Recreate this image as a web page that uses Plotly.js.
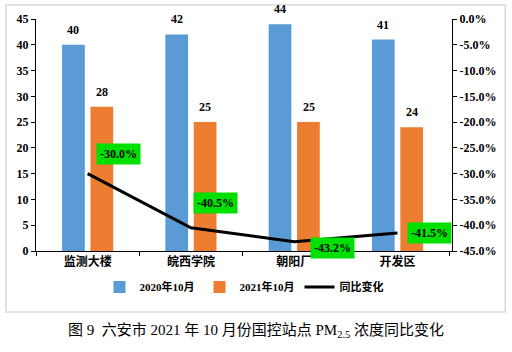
<!DOCTYPE html>
<html><head><meta charset="utf-8">
<script src="https://cdn.plot.ly/plotly-3.0.1.min.js"></script>
<style>html,body{margin:0;padding:0;background:#fff;}#c{width:512px;height:352px;}</style>
</head><body><div id="c"></div>
<script>
const categories = ['监测大楼', '皖西学院', '朝阳厂', '开发区'];
const pm2020 = [40, 42, 44, 41];
const pm2021 = [28, 25, 25, 24];
const yoyChange = [-30.0, -40.5, -43.2, -41.5];
const leftTicks = [0, 5, 10, 15, 20, 25, 30, 35, 40, 45];
const rightTicks = [0, -5, -10, -15, -20, -25, -30, -35, -40, -45];
const seriesNames = ['2020年10月', '2021年10月', '同比变化'];

// label placement (style only)
const pctShift = [[31, 20], [25, 25], [38, -6], [32, 0]];
const barShift = 14.3;

const serif = 'Liberation Serif, Times New Roman, Noto Sans CJK SC, serif';
const fBold = {family: serif, size: 12, color: '#000', weight: 'bold'};

const traces = [
  {type: 'bar', name: seriesNames[0], x: categories, y: pm2020, marker: {color: '#5B9BD5'}, hoverinfo: 'none'},
  {type: 'bar', name: seriesNames[1], x: categories, y: pm2021, marker: {color: '#ED7D31'}, hoverinfo: 'none'},
  {type: 'scatter', mode: 'lines', name: seriesNames[2], x: categories, y: yoyChange, yaxis: 'y2',
   line: {color: '#000', width: 3}, hoverinfo: 'none'}
];

const annotations = [];
categories.forEach((c, i) => {
  annotations.push({x: c, y: pm2020[i], xref: 'x', yref: 'y', text: String(pm2020[i]), showarrow: false,
    xshift: -barShift, yshift: 6, yanchor: 'bottom', font: fBold});
  annotations.push({x: c, y: pm2021[i], xref: 'x', yref: 'y', text: String(pm2021[i]), showarrow: false,
    xshift: barShift, yshift: 6, yanchor: 'bottom', font: fBold});
  annotations.push({x: c, y: yoyChange[i], xref: 'x', yref: 'y2', text: yoyChange[i].toFixed(1) + '%', showarrow: false,
    xshift: pctShift[i][0], yshift: pctShift[i][1], bgcolor: '#00E000', borderpad: 3, font: fBold});
});

const L = 36, R = 60.3, T = 19, B = 101;
const pw = 512 - L - R, ph = 352 - T - B;

const layout = {
  width: 512, height: 352,
  margin: {l: L, r: R, t: T, b: B, pad: 0},
  paper_bgcolor: '#fff', plot_bgcolor: '#fff',
  barmode: 'group', bargap: 0.45, bargroupgap: 0.2,
  showlegend: true,
  legend: {orientation: 'h', x: 0.5, xanchor: 'center', y: (T + ph - 287) / ph, yref: 'paper', yanchor: 'middle',
    font: {family: serif, size: 11, color: '#000', weight: 'bold'}, traceorder: 'normal'},
  title: {text: '图 9  六安市 2021 年 10 月份国控站点 PM<sub>2.5</sub> 浓度同比变化', x: 0.5, xref: 'container',
    y: 1 - 330 / 352, yref: 'container', yanchor: 'middle', font: {family: serif, size: 15, color: '#000'}},
  xaxis: {type: 'category', showline: true, linecolor: '#000', linewidth: 1, ticks: 'outside', tickson: 'boundaries',
    ticklen: 4, tickcolor: '#000', showgrid: false, zeroline: false,
    tickfont: {family: 'Noto Sans CJK SC, sans-serif', size: 12, color: '#000', weight: 'bold'}},
  yaxis: {range: [0, 45], tickvals: leftTicks, ticktext: leftTicks.map(String), showline: true, linecolor: '#000',
    ticks: 'outside', ticklen: 4, tickcolor: '#000', showgrid: false, zeroline: false, tickfont: fBold},
  yaxis2: {overlaying: 'y', side: 'right', range: [-45, 0], tickvals: rightTicks,
    ticktext: rightTicks.map(v => (v === 0 ? '0.0' : '-' + Math.abs(v).toFixed(1)) + '%'),
    showline: true, linecolor: '#000', ticks: 'outside', ticklen: 4, tickcolor: '#000', showgrid: false, zeroline: false,
    tickfont: fBold},
  annotations: annotations,
  shapes: [{type: 'rect', xref: 'paper', yref: 'paper',
    x0: (6 - L) / pw, x1: (505 - L) / pw, y0: (T + ph - 312) / ph, y1: (T + ph - 5) / ph,
    line: {color: '#d9d9d9', width: 1.5}, fillcolor: 'rgba(0,0,0,0)', layer: 'below'}]
};

Plotly.newPlot('c', traces, layout, {staticPlot: true, displayModeBar: false});
</script></body></html>
